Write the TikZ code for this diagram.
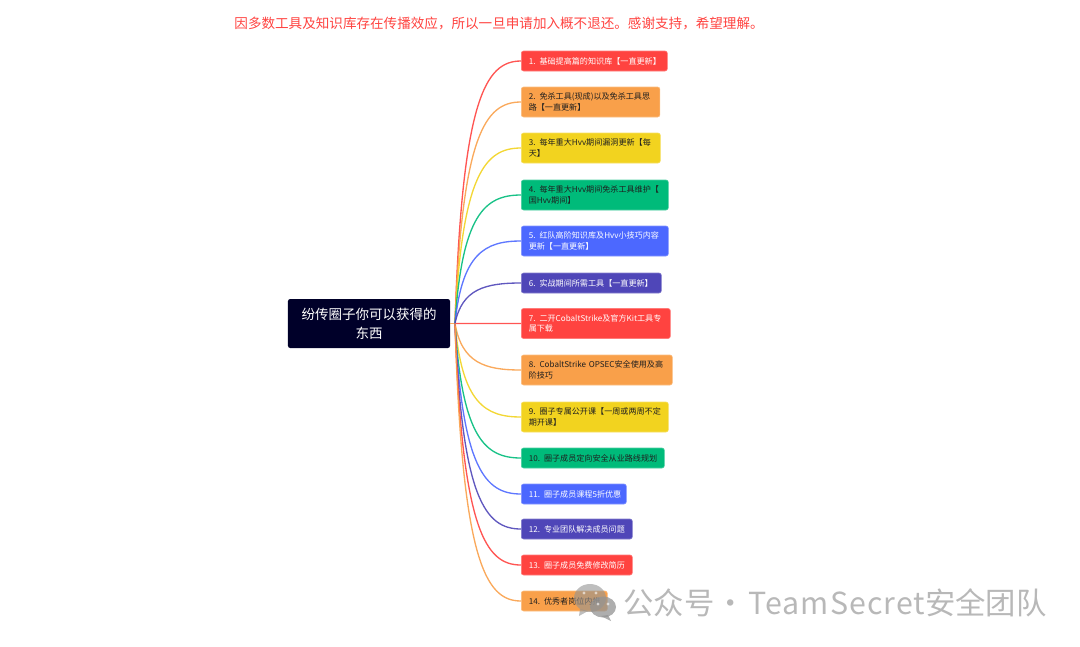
\documentclass[tikz,border=0pt]{standalone}
\usepackage{fontspec}
\setmainfont{Noto Sans CJK SC}
\newfontfamily\leaffamily[WordSpace=0.7]{Noto Sans CJK SC}
\usepackage{xcolor}
\usetikzlibrary{calc}
\definecolor{tintred}{HTML}{FF4340}
\definecolor{tintorange}{HTML}{F9A04A}
\definecolor{tintyellow}{HTML}{F2D31F}
\definecolor{tintgreen}{HTML}{00BB7A}
\definecolor{tintblue}{HTML}{4C68FF}
\definecolor{tintindigo}{HTML}{4F46B8}
\definecolor{rootink}{HTML}{000029}
\definecolor{leafink}{HTML}{1F1F1F}
\tikzset{
  leaf/.style={anchor=west, rounded corners=1.6pt, align=left, inner xsep=0.1875cm, inner ysep=0pt,
    line width=0.4pt, font=\leaffamily\fontsize{5.75pt}{7.5pt}\selectfont},
  short/.style={minimum height=0.5cm},
  tall/.style={minimum height=0.75cm},
  redleaf/.style={leaf, fill=tintred, draw=tintred!70!white, text=white},
  orangeleaf/.style={leaf, fill=tintorange, draw=tintorange!70!white, text=leafink},
  yellowleaf/.style={leaf, fill=tintyellow, draw=tintyellow!70!white, text=leafink},
  greenleaf/.style={leaf, fill=tintgreen, draw=tintgreen!70!white, text=leafink},
  blueleaf/.style={leaf, fill=tintblue, draw=tintblue!70!white, text=white},
  indigoleaf/.style={leaf, fill=tintindigo, draw=tintindigo!70!white, text=white},
  link/.style={line width=0.95pt, draw opacity=0.9}
}

\begin{document}
\begin{tikzpicture}[x=0.025cm, y=-0.025cm]
\useasboundingbox (0,0) rectangle (1080,646);
% notice on top
\node[anchor=west, text=tintred, font=\fontsize{9.65pt}{12pt}\selectfont] (notice) at (229.5,23)
  {因多数工具及知识库存在传播效应，所以一旦申请加入概不退还。感谢支持，希望理解。};
% root
\node[fill=rootink, rounded corners=1.6pt, minimum width=4.05cm, minimum height=1.225cm, inner sep=0pt,
  align=center, text=white, font=\fontsize{9.6pt}{13.5pt}\selectfont] (root) at (369,323.5)
  {纷传圈子你可以获得的\\东西};
\coordinate (hub) at (455,323.5);
\coordinate (bend) at (485,0);
% leaves, top to bottom
\node[redleaf, short, text width=3.275cm] (l1) at (521,61) {\mbox{1. 基础提高篇的知识库【一直更新】}};
\node[orangeleaf, tall, text width=3.09cm] (l2) at (521,102) {\mbox{2. 免杀工具(现成)以及免杀工具思}\\路【一直更新】};
\node[yellowleaf, tall, text width=3.10cm] (l3) at (521,148) {\mbox{3. 每年重大Hvv期间漏洞更新【每}\\天】};
\node[greenleaf, tall, text width=3.30cm] (l4) at (521,195) {\mbox{4. 每年重大Hvv期间免杀工具维护【}\\国Hvv期间】};
\node[blueleaf, tall, text width=3.30cm] (l5) at (521,241) {\mbox{5. 红队高阶知识库及Hvv小技巧内容}\\更新【一直更新】};
\node[indigoleaf, short, text width=3.125cm] (l6) at (521,283) {\mbox{6. 实战期间所需工具【一直更新】}};
\node[redleaf, tall, text width=3.35cm] (l7) at (521,323.5) {\mbox{7. 二开CobaltStrike及官方Kit工具专}\\属下载};
\node[orangeleaf, tall, text width=3.40cm] (l8) at (521,370) {\mbox{8. CobaltStrike OPSEC安全使用及高}\\阶技巧};
\node[yellowleaf, tall, text width=3.30cm] (l9) at (521,417) {\mbox{9. 圈子专属公开课【一周或两周不定}\\期开课】};
\node[greenleaf, short, text width=3.20cm] (l10) at (521,458) {\mbox{10. 圈子成员定向安全从业路线规划}};
\node[blueleaf, short, text width=2.25cm] (l11) at (521,494) {\mbox{11. 圈子成员课程5折优惠}};
\node[indigoleaf, short, text width=2.40cm] (l12) at (521,529) {\mbox{12. 专业团队解决成员问题}};
\node[redleaf, short, text width=2.40cm] (l13) at (521,565) {\mbox{13. 圈子成员免费修改简历}};
\node[orangeleaf, short, text width=1.775cm] (l14) at (521,601) {\mbox{14. 优秀者岗位内推}};
% connectors
\draw[link, tintorange] (root.east) -- (hub);
\foreach \n/\c in {l1/tintred,l2/tintorange,l3/tintyellow,l4/tintgreen,l5/tintblue,l6/tintindigo,l7/tintred,
  l8/tintorange,l9/tintyellow,l10/tintgreen,l11/tintblue,l12/tintindigo,l13/tintred,l14/tintorange}
  \draw[link, \c] (hub) .. controls ($(hub)!0.85!(hub |- \n.west)+(7,0)$) and (bend |- \n.west) .. (\n.west);
% watermark
\begin{scope}[opacity=0.6]
\fill[gray!85] (590,598) ellipse [x radius=16, y radius=14];
\fill[gray!85] (580,609) -- (579,616) -- (588,611) -- cycle;
\end{scope}
\begin{scope}[opacity=0.75]
\fill[gray!85] (603,607) ellipse [x radius=13, y radius=10.5];
\fill[gray!85] (608,615) -- (611,621) -- (601,616) -- cycle;
\end{scope}
\foreach \x/\y in {584/593,596/593,598/604,608/604} \fill[white, opacity=0.6] (\x,\y) circle [radius=1.7];
\node[anchor=west, inner sep=0pt, text=black!28, font=\fontsize{21.6pt}{26pt}\selectfont] (mark) at (623,603)
  {公众号\kern0.5pt·\kern2pt{\addfontfeature{LetterSpace=3.5}TeamSecret}安全团队};
\end{tikzpicture}
\end{document}
